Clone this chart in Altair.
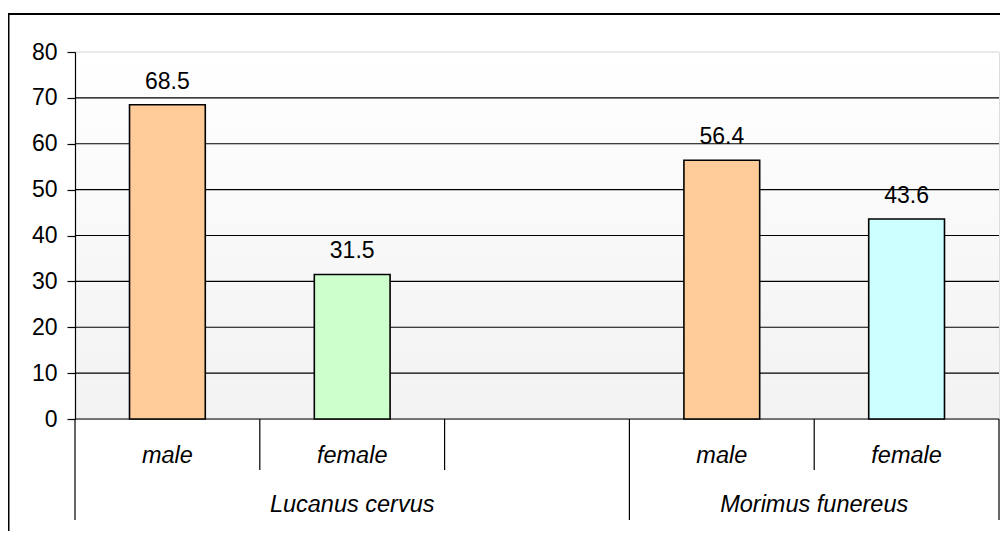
import altair as alt
import pandas as pd

# ---- data ----
species = ["Lucanus cervus", "Lucanus cervus", "Lucanus cervus", "Morimus funereus", "Morimus funereus"]
sex = ["male", "female", "", "male", "female"]
values = [68.5, 31.5, None, 56.4, 43.6]
bar_colors = ["#ffcc99", "#ccffcc", None, "#ffcc99", "#ccffff"]
y_ticks = [0, 10, 20, 30, 40, 50, 60, 70, 80]

W, H = 924, 367
FONT = "Liberation Sans"

df = pd.DataFrame({"idx": list(range(len(sex))), "species": species, "sex": sex,
                   "value": values, "color": bar_colors})

# slot boundaries (long where the species group changes)
bounds = []
for b in range(len(sex) + 1):
    long = b == 0 or b == len(sex) or species[b] != species[b - 1]
    bounds.append({"b": b, "long": long})
bdf = pd.DataFrame(bounds)

xscale = alt.Scale(domain=[0, len(sex)], nice=False, zero=False, padding=0)
yscale = alt.Scale(domain=[0, 80], nice=False, padding=0)

bg = alt.Chart(pd.DataFrame({"a": [0]})).mark_rect(
    fill=alt.Gradient(gradient="linear",
                      stops=[alt.GradientStop(color="#ffffff", offset=0),
                             alt.GradientStop(color="#f2f2f2", offset=1)],
                      x1=0, x2=0, y1=0, y2=1)
).encode(x=alt.value(0), x2=alt.value(W), y=alt.value(0), y2=alt.value(H))

grid = alt.Chart(pd.DataFrame({"v": y_ticks})).mark_rule(strokeWidth=1.2).encode(
    y=alt.Y("v:Q", scale=yscale, axis=alt.Axis(
        values=y_ticks, grid=False, tickSize=8, tickColor="black", domainColor="black",
        labelFont=FONT, labelFontSize=23, labelColor="black", labelPadding=10,
        tickWidth=1.2, domainWidth=1.2, zindex=1, title=None)),
    x=alt.value(0), x2=alt.value(W),
    color=alt.condition("datum.v == 80", alt.value("#d4d4d4"), alt.value("black")),
)

bars = alt.Chart(df).transform_filter("datum.value != null").transform_calculate(
    x1="datum.idx + 0.295", x2="datum.idx + 0.705"
).mark_bar(stroke="black", strokeWidth=1.6).encode(
    x=alt.X("x1:Q", scale=xscale, axis=None),
    x2="x2:Q",
    y=alt.Y("value:Q", scale=yscale),
    y2=alt.datum(0),
    fill=alt.Fill("color:N", scale=None),
)

vlabels = alt.Chart(df).transform_filter("datum.value != null").transform_calculate(
    xc="datum.idx + 0.5"
).mark_text(font=FONT, fontSize=23, dy=-16, baseline="alphabetic", color="black").encode(
    x=alt.X("xc:Q", scale=xscale, axis=None),
    y=alt.Y("value:Q", scale=yscale),
    text=alt.Text("value:Q", format=".1f"),
)

sexlabels = alt.Chart(df).transform_calculate(xc="datum.idx + 0.5").mark_text(
    font=FONT, fontSize=23.5, fontStyle="italic", baseline="middle", color="black"
).encode(x=alt.X("xc:Q", scale=xscale, axis=None), y=alt.value(H + 37), text="sex:N")

splabels = alt.Chart(df).transform_aggregate(
    lo="min(idx)", hi="max(idx)", groupby=["species"]
).transform_calculate(xc="(datum.lo + datum.hi + 1) / 2").mark_text(
    font=FONT, fontSize=23.5, fontStyle="italic", baseline="middle", color="black"
).encode(x=alt.X("xc:Q", scale=xscale, axis=None), y=alt.value(H + 86), text="species:N")

short_ticks = alt.Chart(bdf).transform_filter("!datum.long").mark_rule(
    color="black", strokeWidth=1.2).encode(
    x=alt.X("b:Q", scale=xscale, axis=None), y=alt.value(H), y2=alt.value(H + 51))

long_ticks = alt.Chart(bdf).transform_filter("datum.long").mark_rule(
    color="black", strokeWidth=1.2).encode(
    x=alt.X("b:Q", scale=xscale, axis=None), y=alt.value(H), y2=alt.value(H + 101))

frame_top = alt.Chart(pd.DataFrame({"a": [0]})).mark_rule(color="black", strokeWidth=2).encode(
    x=alt.value(-67), x2=alt.value(W + 10), y=alt.value(-38))
frame_left = alt.Chart(pd.DataFrame({"a": [0]})).mark_rule(color="black", strokeWidth=2).encode(
    x=alt.value(-66.5), y=alt.value(-39), y2=alt.value(H + 130))

chart = alt.layer(
    bg, grid, bars, vlabels, sexlabels, splabels, short_ticks, long_ticks, frame_top, frame_left
).properties(
    width=W, height=H,
    autosize=alt.AutoSizeParams(type="none"),
    padding={"left": 67, "top": 44, "right": 1, "bottom": 112},
).configure_view(stroke=None).configure(background="white")

chart.save("out.html", embed_options={"renderer": "svg", "actions": False})
